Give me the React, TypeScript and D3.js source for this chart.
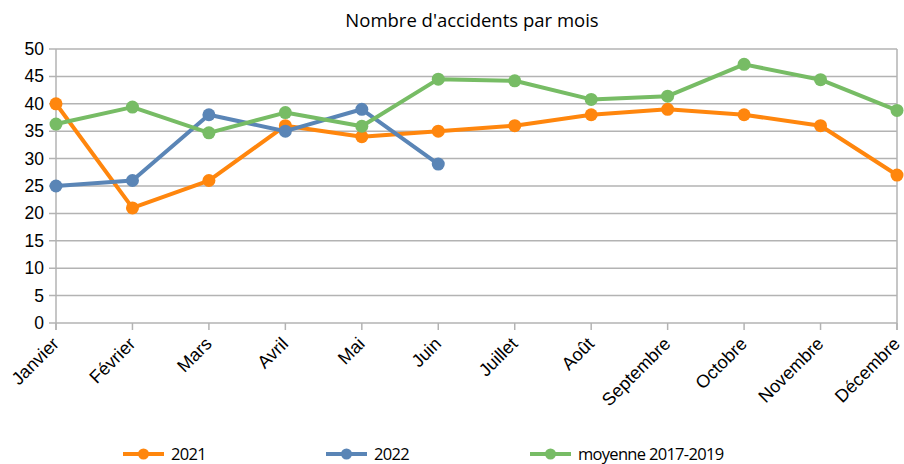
import React, { useEffect, useRef } from "react";
import * as d3 from "d3";

const months = [
  "Janvier", "Février", "Mars", "Avril", "Mai", "Juin",
  "Juillet", "Août", "Septembre", "Octobre", "Novembre", "Décembre",
];
const values2021 = [40, 21, 26, 36, 34, 35, 36, 38, 39, 38, 36, 27];
const values2022 = [25, 26, 38, 35, 39, 29];
const valuesAvg = [36.3, 39.4, 34.7, 38.4, 35.9, 44.5, 44.2, 40.8, 41.4, 47.2, 44.4, 38.8];
const yTicks = [0, 5, 10, 15, 20, 25, 30, 35, 40, 45, 50];

const series = [
  { name: "2021", values: values2021, color: "#ff860d", legendX: 123 },
  { name: "2022", values: values2022, color: "#5a85b6", legendX: 326 },
  { name: "moyenne 2017-2019", values: valuesAvg, color: "#77bc65", legendX: 530 },
];

const App = () => {
  const ref = useRef<SVGSVGElement>(null);

  useEffect(() => {
    const svg = d3.select(ref.current);
    svg.selectAll("*").remove();

    const left = 56, right = 897, top = 49, bottom = 323;

    const x = d3.scalePoint().domain(months).range([left, right]);
    const y = d3.scaleLinear().domain([0, 50]).range([bottom, top]);

    // title
    svg.append("text")
      .attr("x", 472).attr("y", 27)
      .attr("text-anchor", "middle")
      .attr("font-family", "Open Sans, sans-serif")
      .attr("font-size", 18.5)
      .text("Nombre d'accidents par mois");

    // grid
    svg.append("g")
      .selectAll("line")
      .data(yTicks)
      .join("line")
      .attr("x1", left - 7).attr("x2", right)
      .attr("y1", (d) => y(d)).attr("y2", (d) => y(d))
      .attr("stroke", "#b3b3b3").attr("stroke-width", 1.5);

    // side borders
    [left, right].forEach((xx) => {
      svg.append("line")
        .attr("x1", xx).attr("x2", xx).attr("y1", top).attr("y2", bottom + 7)
        .attr("stroke", "#b3b3b3").attr("stroke-width", 1.5);
    });

    // x tick marks
    svg.append("g")
      .selectAll("line")
      .data(months)
      .join("line")
      .attr("x1", (d) => x(d)!).attr("x2", (d) => x(d)!)
      .attr("y1", bottom).attr("y2", bottom + 7)
      .attr("stroke", "#b3b3b3").attr("stroke-width", 1.5);

    // y labels
    svg.append("g")
      .selectAll("text")
      .data(yTicks)
      .join("text")
      .attr("x", left - 12).attr("y", (d) => y(d) + 6)
      .attr("text-anchor", "end")
      .attr("font-family", "Liberation Sans, Arial, sans-serif")
      .attr("font-size", 17.5)
      .text((d) => d);

    // x labels
    svg.append("g")
      .selectAll("text")
      .data(months)
      .join("text")
      .attr("transform", (d) => `translate(${x(d)! + 4},${bottom + 22}) rotate(-45)`)
      .attr("text-anchor", "end")
      .attr("font-family", "Liberation Sans, Arial, sans-serif")
      .attr("font-size", 18)
      .text((d) => d);

    const line = d3.line<number>()
      .x((_, i) => x(months[i])!)
      .y((d) => y(d));

    series.forEach((s) => {
      svg.append("path")
        .datum(s.values)
        .attr("fill", "none")
        .attr("stroke", s.color)
        .attr("stroke-width", 4)
        .attr("stroke-linejoin", "round")
        .attr("d", line);
      svg.append("g")
        .selectAll("circle")
        .data(s.values)
        .join("circle")
        .attr("cx", (_, i) => x(months[i])!)
        .attr("cy", (d) => y(d))
        .attr("r", 6.5)
        .attr("fill", s.color);

      // legend
      const ly = 454;
      svg.append("line")
        .attr("x1", s.legendX).attr("x2", s.legendX + 41)
        .attr("y1", ly).attr("y2", ly)
        .attr("stroke", s.color).attr("stroke-width", 4);
      svg.append("circle")
        .attr("cx", s.legendX + 20.5).attr("cy", ly).attr("r", 5.5)
        .attr("fill", s.color);
      svg.append("text")
        .attr("x", s.legendX + 48).attr("y", ly + 6)
        .attr("font-family", "Open Sans, sans-serif")
        .attr("font-size", 16.5)
        .attr("letter-spacing", -0.7)
        .text(s.name);
    });
  }, []);

  return (
    <svg
      ref={ref}
      width={904}
      height={464}
      style={{ position: "absolute", left: 0, top: 0, background: "#fff" }}
    />
  );
};

export default App;
